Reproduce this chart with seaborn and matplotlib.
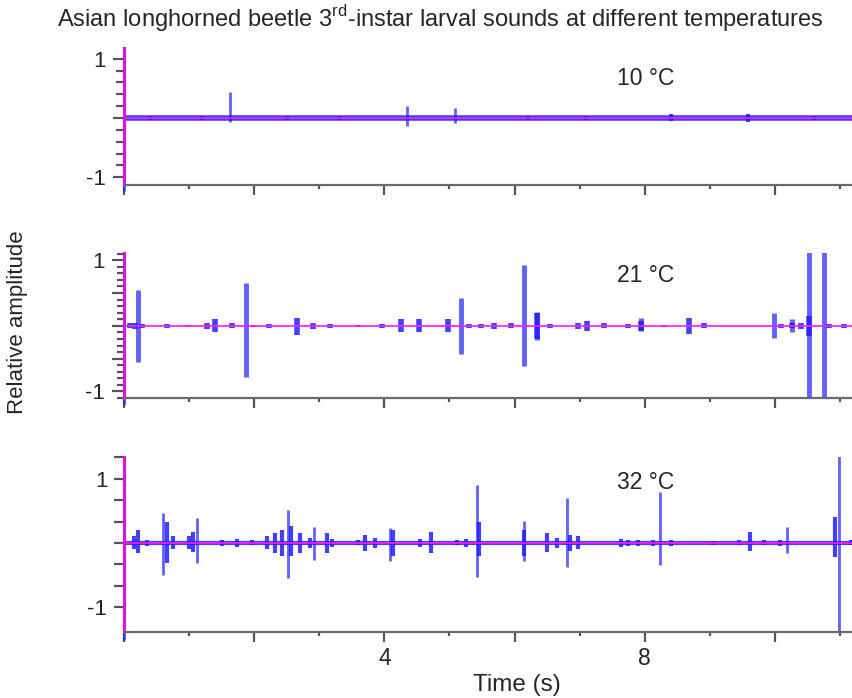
import matplotlib
matplotlib.use("Agg")
import matplotlib.pyplot as plt
import seaborn as sns
from matplotlib.ticker import MultipleLocator, FixedLocator, FuncFormatter

sns.set_style("ticks")
plt.rcParams['font.family'] = ['Liberation Sans', 'DejaVu Sans']
plt.rcParams['mathtext.fontset'] = 'custom'
plt.rcParams['mathtext.rm'] = 'Liberation Sans'

# data, time in seconds, amplitude relative
t_start, t_end = 0.0, 11.2
temps = ['10 °C', '21 °C', '32 °C']

# 10 C
spk10_t = [1.63, 4.34, 5.09]
spk10_up = [0.44, 0.20, 0.17]
spk10_lo = [-0.07, -0.13, -0.08]
bst10_t = [0.4, 1.2, 2.5, 3.3, 6.2, 7.1, 8.40, 9.58, 10.6]
bst10_up = [0.04, 0.03, 0.04, 0.03, 0.04, 0.03, 0.06, 0.06, 0.03]
bst10_lo = [-0.04, -0.03, -0.04, -0.03, -0.04, -0.03, -0.05, -0.06, -0.03]

# 21 C
spk21_t = [0.22, 1.88, 5.18, 6.15, 6.35, 7.95, 9.98, 10.26, 10.52, 10.75]
spk21_up = [0.55, 0.66, 0.43, 0.92, 0.21, 0.12, 0.20, 0.10, 1.50, 1.50]
spk21_lo = [-0.55, -0.78, -0.43, -0.61, -0.21, -0.08, -0.18, -0.10, -1.50, -1.50]
bst21_t = [0.09, 0.17, 0.28, 0.66, 0.99, 1.27, 1.40, 1.66, 1.99, 2.22, 2.66, 2.91,
           3.17, 3.60, 3.96, 4.25, 4.53, 4.97, 5.30, 5.48, 5.68, 5.94, 6.35, 6.55,
           6.97, 7.12, 7.37, 7.74, 7.95, 8.30, 8.68, 8.91, 10.09, 10.27, 10.40,
           10.52, 10.83, 11.06]
bst21_up = [0.04, 0.05, 0.03, 0.03, 0.02, 0.05, 0.10, 0.04, 0.02, 0.03, 0.12, 0.05,
            0.03, 0.02, 0.03, 0.10, 0.10, 0.10, 0.03, 0.03, 0.05, 0.04, 0.20, 0.03,
            0.05, 0.08, 0.04, 0.03, 0.08, 0.02, 0.12, 0.04, 0.03, 0.04, 0.05,
            0.15, 0.03, 0.03]
bst21_lo = [-0.04, -0.05, -0.03, -0.03, -0.02, -0.05, -0.10, -0.04, -0.02, -0.03, -0.14, -0.05,
            -0.03, -0.02, -0.03, -0.10, -0.10, -0.10, -0.03, -0.03, -0.05, -0.04, -0.20, -0.03,
            -0.05, -0.08, -0.04, -0.03, -0.08, -0.02, -0.12, -0.04, -0.03, -0.04, -0.05,
            -0.15, -0.03, -0.03]

# 32 C
spk32_t = [0.60, 1.12, 2.52, 2.92, 4.09, 5.42, 6.14, 6.80, 8.23, 10.18, 10.98]
spk32_up = [0.47, 0.39, 0.52, 0.25, 0.23, 0.90, 0.34, 0.70, 0.80, 0.25, 1.60]
spk32_lo = [-0.50, -0.31, -0.55, -0.27, -0.29, -0.53, -0.29, -0.38, -0.35, -0.16, -1.60]
bst32_t = [0.15, 0.22, 0.35, 0.66, 0.75, 1.00, 1.06, 1.50, 1.74, 1.97, 2.20, 2.32,
           2.43, 2.57, 2.71, 2.85, 3.12, 3.20, 3.60, 3.71, 3.86, 4.14, 4.55, 4.71,
           5.12, 5.25, 5.45, 6.14, 6.50, 6.65, 6.85, 6.97, 7.63, 7.75, 7.89, 8.12,
           8.40, 9.05, 9.45, 9.62, 9.83, 10.08, 10.92, 11.17]
bst32_up = [0.10, 0.20, 0.05, 0.33, 0.10, 0.10, 0.17, 0.05, 0.06, 0.04, 0.10, 0.16,
            0.20, 0.27, 0.16, 0.08, 0.16, 0.06, 0.04, 0.12, 0.08, 0.20, 0.06, 0.17,
            0.04, 0.06, 0.33, 0.20, 0.15, 0.08, 0.12, 0.10, 0.06, 0.05, 0.05, 0.05,
            0.05, 0.03, 0.04, 0.17, 0.04, 0.05, 0.41, 0.04]
bst32_lo = [-0.10, -0.16, -0.05, -0.31, -0.10, -0.10, -0.15, -0.05, -0.06, -0.04, -0.10, -0.16,
            -0.20, -0.20, -0.16, -0.08, -0.16, -0.06, -0.04, -0.12, -0.08, -0.20, -0.06, -0.16,
            -0.04, -0.06, -0.20, -0.20, -0.15, -0.08, -0.12, -0.10, -0.06, -0.05, -0.05, -0.05,
            -0.05, -0.03, -0.04, -0.12, -0.04, -0.05, -0.22, -0.04]

spikes = [(spk10_t, spk10_up, spk10_lo), (spk21_t, spk21_up, spk21_lo), (spk32_t, spk32_up, spk32_lo)]
bursts = [(bst10_t, bst10_up, bst10_lo), (bst21_t, bst21_up, bst21_lo), (bst32_t, bst32_up, bst32_lo)]

blue = '#1f1fff'
magenta = '#ff1aff'

# layout: [left, bottom, width, height] in figure fraction
boxes = [[0.1454, 0.7350, 0.8546, 0.1962],
         [0.1454, 0.4298, 0.8546, 0.2077],
         [0.1454, 0.0946, 0.8546, 0.2507]]
ylims = [(-1.13, 1.18), (-1.10, 1.11), (-1.39, 1.34)]
base_lw = [4.0, 0.0, 3.0]
spike_lw = [2.0, 3.5, 2.0]
burst_lw = [3.0, 4.0, 3.0]
label_y = [0.67, 0.76, 0.94]

fig = plt.figure(figsize=(8.53, 6.98), dpi=100)

for i in range(3):
    ax = fig.add_axes(boxes[i])
    st, su, sl = spikes[i]
    bt, bu, bl = bursts[i]

    # baseline noise band
    if base_lw[i] > 0:
        sns.lineplot(x=[t_start, t_end], y=[0, 0], ax=ax, color=blue, lw=base_lw[i], alpha=0.85)
    ax.vlines(bt, bl, bu, colors=blue, lw=burst_lw[i], alpha=0.85)
    ax.vlines(st, sl, su, colors=blue, lw=spike_lw[i], alpha=0.7)
    sns.lineplot(x=[t_start, t_end], y=[0, 0], ax=ax, color=magenta, lw=1.2)

    ax.set_xlim(t_start, t_end)
    ax.set_ylim(*ylims[i])

    for s in ['top', 'right']:
        ax.spines[s].set_visible(False)
    ax.spines['left'].set_color('#e010e0')
    ax.spines['left'].set_linewidth(2.2)
    ax.spines['bottom'].set_color('#6a6a6a')
    ax.spines['bottom'].set_linewidth(1.6)

    # blue stub under the origin
    ax.axvline(0, ymin=-0.04, ymax=0, color=blue, lw=2, alpha=0.7, clip_on=False)

    ax.xaxis.set_major_locator(MultipleLocator(2))
    ax.xaxis.set_minor_locator(MultipleLocator(1))
    ax.tick_params(axis='x', which='major', length=7, width=1.6, color='#555555', pad=4)
    ax.tick_params(axis='x', which='minor', length=3, width=1.6, color='#555555')
    if i < 2:
        ax.tick_params(axis='x', labelbottom=False)
    else:
        ax.xaxis.set_major_formatter(FuncFormatter(lambda v, p: f"{v:g}" if v in (4, 8) else ""))
        ax.tick_params(axis='x', labelsize=16.5)

    if i == 0:
        ax.yaxis.set_major_locator(FixedLocator([-1, 0, 1]))
        ax.yaxis.set_minor_locator(MultipleLocator(0.2))
        ax.tick_params(axis='y', which='major', length=8)
        ax.tick_params(axis='y', which='minor', length=6)
    elif i == 1:
        ax.yaxis.set_major_locator(MultipleLocator(0.5))
        ax.yaxis.set_minor_locator(MultipleLocator(0.1))
        ax.tick_params(axis='y', which='major', length=9)
        ax.tick_params(axis='y', which='minor', length=5)
    else:
        ax.yaxis.set_major_locator(FixedLocator([-1, -2/3, -1/3, 0, 1/3, 2/3, 1, 4/3]))
        ax.tick_params(axis='y', which='major', length=7)
    ax.yaxis.set_major_formatter(FuncFormatter(
        lambda v, p: "1" if abs(v - 1) < 1e-6 else ("-1" if abs(v + 1) < 1e-6 else "")))
    ax.tick_params(axis='y', which='both', width=1.6, color='#555555', labelsize=16, pad=5)

    ax.text(7.58, label_y[i], temps[i], fontsize=16.5, ha='left', va='center')

fig.text(0.516, 0.973, 'Asian longhorned beetle 3$^{\\mathrm{rd}}$-instar larval sounds at different temperatures',
         ha='center', va='center', fontsize=17)
fig.text(0.021, 0.539, 'Relative amplitude', rotation=90, ha='center', va='center', fontsize=16)
fig.text(0.606, 0.019, 'Time (s)', ha='center', va='center', fontsize=17.5)

fig.savefig('out.png', dpi=100)
